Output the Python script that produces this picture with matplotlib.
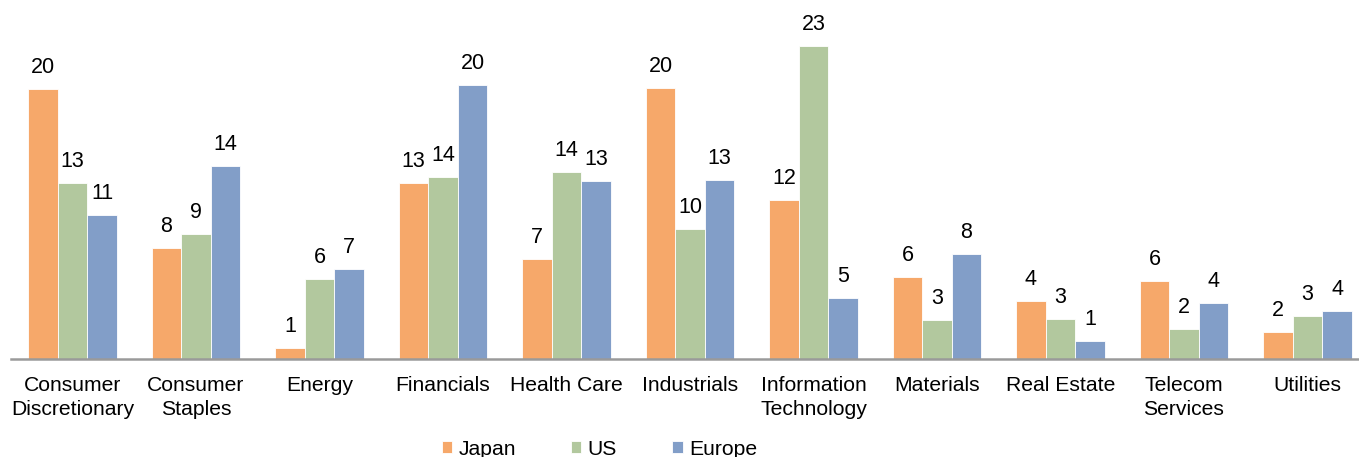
import matplotlib.pyplot as plt
import numpy as np

plt.rcParams['font.family'] = ['Liberation Sans', 'DejaVu Sans']

sectors = ['Consumer\nDiscretionary', 'Consumer\nStaples', 'Energy', 'Financials',
           'Health Care', 'Industrials', 'Information\nTechnology', 'Materials',
           'Real Estate', 'Telecom\nServices', 'Utilities']
japan = [20.07, 8.28, 0.79, 13.09, 7.46, 20.17, 11.84, 6.10, 4.33, 5.82, 2.03]
us = [13.09, 9.26, 5.92, 13.55, 13.87, 9.69, 23.29, 2.87, 3.00, 2.23, 3.22]
europe = [10.71, 14.35, 6.66, 20.34, 13.23, 13.31, 4.55, 7.83, 1.34, 4.13, 3.59]

series = [('Japan', japan, '#F6A86A'), ('US', us, '#B2C89E'), ('Europe', europe, '#829EC8')]

fig = plt.figure(figsize=(13.59, 4.57), dpi=100)
ax = fig.add_axes([10.75 / 1359, 98 / 457, 1358.5 / 1359, 336.3 / 457])

x = np.arange(len(sectors))
w = 0.239
for i, (name, vals, col) in enumerate(series):
    bars = ax.bar(x + (i - 1) * w, vals, w, color=col, label=name,
                  edgecolor='white', linewidth=0.6)
    ax.bar_label(bars, fmt='%.0f', padding=8, fontsize=15.5)

ax.set_xlim(-0.5, len(sectors) - 0.5)
ax.set_ylim(0, 25)
ax.set_yticks([])
ax.set_xticks(x)
ax.set_xticklabels(sectors, fontsize=15.2, linespacing=1.36)
ax.tick_params(axis='x', length=0, pad=12)
for s in ['top', 'right', 'left']:
    ax.spines[s].set_visible(False)
ax.spines['bottom'].set_color('#9A9A9A')
ax.spines['bottom'].set_linewidth(1.8)

fig.legend(loc='lower center', bbox_to_anchor=(0.441, -0.045), ncol=3,
           frameon=False, fontsize=15.2, handlelength=0.5, handleheight=0.5,
           handletextpad=0.3, columnspacing=2.6)

fig.savefig('out.png', dpi=100)
